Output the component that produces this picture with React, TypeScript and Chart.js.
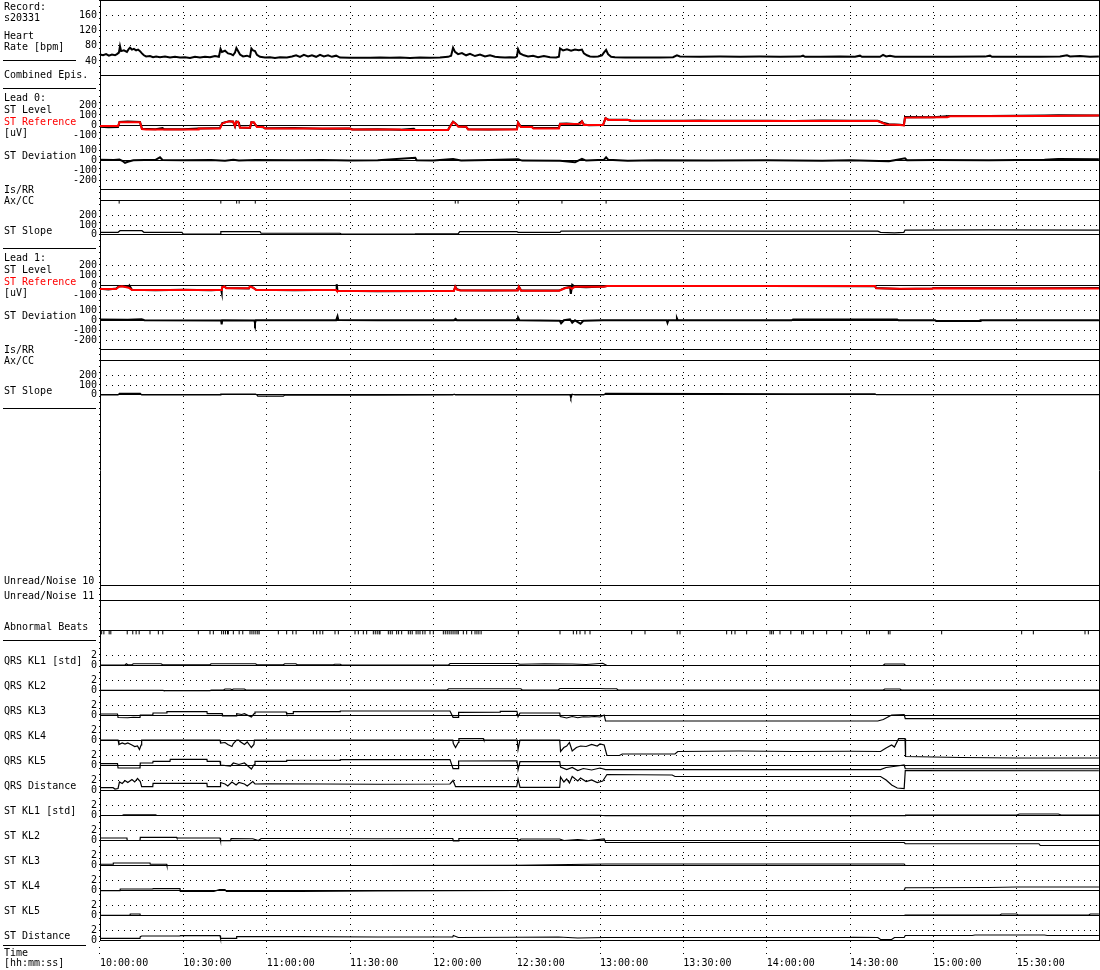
import { useEffect, useRef } from "react";
import { Chart, registerables } from "chart.js";

Chart.register(...registerables);

// ---------- data (time = minutes after 10:00:00) ----------
const TIME_TICKS = [0, 30, 60, 90, 120, 150, 180, 210, 240, 270, 300, 330];
const HR_TICKS = [40, 80, 120, 160];
const LEVEL_TICKS = [-100, 0, 100, 200];
const DEV_TICKS = [-200, -100, 0, 100];
const SLOPE_TICKS = [0, 100, 200];
const KL_TICKS = [0, 2];

const HEART_RATE: [number, number][] = [
  [0,57],[1.1,55],[2.2,58],[3.2,54],[4.3,57],[5.4,55],[6.1,58],[6.8,62],[7.2,79],[7.6,66],[8.6,68],[9.7,64],[10.4,72],[10.8,75],[11.5,70],[12.2,72],[13,68],[13.7,70],[14.4,66],[15.1,60],[15.8,55],[16.6,52],[18,53],[19.1,50],[20.2,52],[21.6,50],[23.4,52],[25.2,49],[27,51],[28.8,49],[30.6,50],[32.4,48],[34.2,51],[36,49],[37.8,51],[39.6,50],[41.4,53],[42.8,51],[43.4,72],[43.9,64],[45,67],[46.1,60],[47.2,58],[47.9,55],[48.6,62],[49.1,74],[49.7,66],[50.4,57],[51.5,52],[52.9,54],[54,51],[54.5,73],[55.1,68],[55.8,66],[56.5,56],[57.6,51],[59.4,49],[61.2,50],[63,48],[64.8,50],[67.3,49],[69.1,52],[70.6,55],[72,51],[73.4,56],[74.9,52],[76.3,55],[77.8,51],[79.2,56],[80.6,52],[82.1,55],[83.5,51],[85,54],[86.4,49],[90,48.5],[93.6,48.5],[97.2,48.5],[100.8,49],[104.4,48.5],[108,49],[111.6,48],[115.2,49],[118.8,48.5],[122.4,49],[125.3,51],[126.4,54],[127.1,75],[127.8,64],[128.9,58],[130.3,61],[131.8,55],[133.2,59],[135,53],[136.8,57],[138.6,52],[140.4,55],[142.2,51],[144,50],[145.8,49],[147.6,50],[149.4,49],[150.1,52],[150.5,71],[151.2,60],[152.6,55],[154.1,52],[155.9,54],[157.7,50],[159.8,53],[162,50],[164.2,49],[165.2,51],[165.6,73],[166.7,68],[168.1,71],[169.6,67],[171,70],[172.4,68],[173.5,70],[174.2,60],[175.3,55],[176.4,52],[177.8,51],[179.3,52],[180.7,55],[181.4,62],[182.2,69],[182.9,58],[184,51],[185.4,50],[189,49.5],[194.4,49],[201.6,49.5],[206.3,50],[207.7,55],[208.8,52],[216,51],[223.2,51.5],[230.4,51],[237.6,51.5],[244.8,51],[252,51.5],[253.1,54],[253.8,51],[259.2,51],[266.4,51.5],[271.8,51],[273.6,54],[274.3,51],[280.8,51],[281.9,56],[283,52],[284.4,54],[286.2,51],[295.2,51],[306,51],[318.6,51.5],[320.4,54],[321.1,51],[331.2,51],[338.4,51],[345.6,52],[348.1,55],[349.2,52],[352.8,53],[356.4,51],[359.6,52],
];

const L0_ST_REFERENCE: [number, number][] = [
  [0,-3],[6.5,-3],[7,33],[14.4,33],[15.1,-33],[16.6,-37],[35.3,-37],[35.5,-27],[43.2,-27],[44,20],[45,33],[46.5,42],[47.9,42],[48.6,-5],[49,35],[49.7,40],[50.4,-20],[54,-20],[54.5,33],[55.4,33],[56.5,-13],[58.7,-13],[59.4,-27],[90,-27],[90.5,-37],[108,-37],[108.5,-43],[125.3,-43],[126,-10],[127.1,37],[128,20],[129,-10],[131.8,-10],[132.5,-37],[150.1,-37],[150.5,30],[151.5,-13],[155.5,-13],[156,-27],[165.2,-27],[165.6,17],[173,20],[173.5,42],[174.2,7],[181.1,7],[182,73],[183,57],[190.8,57],[191.2,47],[280,47],[283,13],[288,7],[289.4,3],[289.8,80],[305,83],[306,93],[340,95],[359.6,100],
];
const L0_ST_LEVEL: [number, number][] = [
  [0,-10],[3,-16],[6.5,-12],[7,36],[10,42],[14.4,38],[15.1,-30],[20,-35],[22.5,-24],[23,-34],[30,-36],[35.5,-28],[40,-25],[43.2,-22],[44,25],[46.5,45],[47.9,40],[48.6,-8],[49.1,42],[50,30],[50.4,-18],[54,-22],[54.5,35],[55.4,30],[56.5,-8],[58.7,-15],[59.4,-26],[70,-24],[80,-30],[90,-28],[91,-38],[100,-35],[108,-40],[113,-30],[113.5,-42],[125.3,-42],[126,-5],[127.1,40],[128,22],[129,-6],[131.8,-12],[132.5,-35],[140,-38],[150.1,-34],[150.5,33],[151.5,-10],[155.5,-12],[156,-24],[165.2,-24],[165.6,20],[168,22],[172,15],[173.5,45],[174.2,12],[176,5],[181.1,8],[182,75],[183,60],[190,58],[190.8,50],[200,50],[210,48],[216,52],[220,48],[240,50],[250,47],[260,52],[270,50],[280,48],[281.9,30],[284,15],[288,10],[289.4,5],[289.8,85],[300,83],[306,95],[320,96],[340,100],[345,104],[359.6,102],
];
const L0_ST_DEVIATION: [number, number][] = [
  [0,5],[5,3],[7,8],[8,-5],[9,-25],[10,-15],[12,0],[20,5],[21.6,30],[22.5,3],[30,0],[40,2],[45,-5],[48,5],[50,-3],[56,2],[70,0],[80,3],[90,-2],[100,0],[113.5,25],[114,0],[120,-3],[127.1,12],[130,-3],[140,2],[150.5,10],[152,-3],[165.6,-5],[171,-20],[172,-5],[173.5,15],[175,-3],[181.4,5],[182.2,30],[183,5],[190,-5],[200,0],[220,-3],[240,0],[260,-5],[270,0],[284,-10],[286,0],[289.8,20],[290.5,0],[300,3],[320,0],[340,5],[345,12],[359.6,10],
];
const L0_ST_SLOPE: [number, number][] = [
  [0,25],[6.5,25],[7.2,42],[15.1,42],[15.8,25],[29.5,25],[30,7],[43.2,7],[43.5,33],[57.6,33],[58,15],[86.4,15],[87,5],[113,5],[113.5,8],[128.9,8],[129.5,33],[150.1,33],[150.5,25],[165.6,25],[166,38],[200,40],[240,37],[280,38],[281,25],[286,20],[289.4,25],[289.8,49],[320,50],[359.6,49],
];
const L0_AXCC_EVENTS = [6.9, 43.5, 49.2, 50.1, 55.9, 127.9, 128.9, 150.7, 166.3, 182.2, 289.4];

const L1_ST_REFERENCE: [number, number][] = [
  [0,-33],[5.8,-33],[6.8,-10],[7.9,-5],[10.3,-20],[11.5,-42],[43.6,-42],[43.9,-18],[44.8,-8],[45.4,-25],[53.6,-25],[54,-8],[55.1,-20],[56.2,-43],[85,-43],[85.3,-53],[127.4,-53],[127.9,-10],[128.5,-40],[129.7,-47],[150.4,-47],[150.8,-10],[151.6,-50],[165.3,-50],[167.4,-25],[169.2,-15],[169.9,-30],[171,-10],[181.4,-10],[182.5,-3],[279,-3],[279.4,-25],[288,-30],[299.6,-30],[300.2,-25],[359.6,-27],
];
const L1_ST_LEVEL: [number, number][] = [
  [0,-30],[3,-38],[5.8,-28],[6.8,-8],[7.9,-2],[10.3,-15],[10.6,2],[11.5,-40],[20,-44],[30,-40],[40,-45],[43.6,-40],[43.8,-65],[44,-15],[44.8,-5],[45.4,-22],[53.6,-28],[54,-5],[55.1,-18],[56.2,-40],[70,-44],[85,-40],[85.2,15],[85.5,-50],[100,-55],[120,-52],[127.4,-50],[127.9,-8],[128.5,-35],[129.7,-45],[140,-48],[150.4,-45],[150.8,-8],[151.6,-48],[165.3,-48],[167.4,-22],[169.2,-12],[169.5,-80],[170,10],[171,-10],[175,-15],[181.4,-8],[182.5,-2],[220,-3],[240,-2],[279,-5],[279.4,-22],[288,-32],[299.6,-28],[300.2,-22],[330,-25],[359.6,-24],
];
const L1_ST_DEVIATION: [number, number][] = [
  [0,8],[10,5],[15,10],[16,0],[43.6,-3],[43.8,-40],[44,0],[55.6,-2],[55.8,-28],[56.1,0],[85,0],[85.5,40],[85.8,3],[100,0],[127.4,0],[128,15],[128.5,0],[150.3,0],[150.5,27],[151,0],[165.5,-5],[166,-30],[167,0],[169.2,10],[170,-25],[171,0],[173,-35],[174,-5],[181,0],[204,0],[204.3,-25],[204.6,0],[207.5,0],[207.7,20],[208,0],[249,0],[249.5,8],[287,8],[287.5,0],[300.6,0],[301,-8],[316.8,-8],[317,0],[359.6,0],
];
const L1_ST_SLOPE: [number, number][] = [
  [0,-3],[6.5,-3],[7,14],[14.5,14],[15,-3],[43.2,-3],[43.5,7],[56,7],[56.5,-3],[56.8,-15],[66,-15],[66.5,-3],[100,-4],[127,-3],[127.5,5],[128,-3],[169.2,-3],[169.5,-40],[170,5],[171,-3],[181.4,-3],[182,14],[220,12],[250,10],[279,10],[279.5,0],[359.6,0],
];

const ABNORMAL_BEATS = [
  0.6,1.4,3.3,3.9,9.8,11.8,13,14.1,18,21,22.6,35.4,39.6,40.8,43.8,44.5,45.2,45.9,46.2,48,50.1,51.4,54,54.7,55.4,56.1,56.8,57.3,64.2,67.2,69.4,70.6,76.8,78,79.2,80.2,84.6,85.8,91.8,93,94.8,96,98.4,99.1,99.8,100.5,100.8,103.8,104.5,105.2,106.8,107.5,108.6,111,111.7,112.4,113.8,114.5,115.2,116.2,117,118.8,120,123.6,124.3,125,125.7,126.4,127.1,127.8,128.5,129,130.8,132,133.8,135,135.7,136.4,137.2,150.6,165.6,170.4,171.6,172.8,174.6,176.4,
  191.4,196.2,207.8,208.8,225.6,227.4,228.6,232.8,241.2,241.8,242.4,244.8,248.7,252.6,253.2,256.8,261.6,267,276,277,283.8,284.4,303,331.8,336,354.6,355.8,
];

const QRS_KL1: [number, number][] = [
  [0,0],[9,0],[9.5,0.25],[10,0.05],[11.5,0.05],[12,0.25],[22,0.25],[22.5,0.05],[39.6,0.05],[40,0.25],[56,0.25],[56.5,0.05],[66,0.05],[66.5,0.25],[70.5,0.25],[71,0.05],[84,0.05],[84.5,0.15],[86.5,0.15],[87,0],[125.5,0],[126,0.3],[150.5,0.3],[151,0.15],[160,0.25],[170,0.2],[175,0.1],[180,0.3],[181,0.35],[182.5,-0.1],[281.9,-0.1],[282.5,0.2],[289.5,0.2],[290,-0.1],[359.6,-0.1],
];
const QRS_KL2: [number, number][] = [
  [0,-0.05],[22.7,-0.05],[23,-0.15],[39.6,-0.15],[40,0],[44.5,0],[45,0.2],[47,0.2],[47.5,0.05],[48,0.2],[52,0.2],[52.5,0],[125,0],[125.5,0.25],[151.5,0.25],[152,0],[165,0],[165.5,0.3],[180,0.3],[182,0.25],[186,0.25],[186.5,0],[282,0],[282.5,0.2],[288,0.2],[288.5,0],[359.6,0],
];
const QRS_KL3: [number, number][] = [
  [0,0.2],[6.3,0.2],[6.5,-0.5],[10,-0.55],[12,-0.45],[14.4,-0.5],[14.5,0],[19,0],[19.1,0.4],[24,0.4],[24.1,0.67],[38.5,0.67],[38.6,0.27],[44,0.27],[44.1,-0.2],[49,-0.2],[49.2,0.27],[51,0.1],[52,0.27],[54.5,-0.4],[55.5,0.27],[55.8,0.6],[67,0.6],[67.2,0.27],[69.5,0.27],[69.6,0.67],[86.4,0.67],[86.5,0.8],[126,0.8],[127.1,-0.47],[129,-0.47],[129.1,0.53],[144,0.55],[144.1,0.73],[150.1,0.73],[150.5,-0.33],[151.2,0.4],[165.5,0.4],[165.7,-0.3],[168,-0.6],[170,-0.3],[172,-0.55],[174,-0.35],[176,-0.4],[178,-0.3],[180,-0.4],[181.5,0],[182,-1.2],[280,-1.2],[282,-0.9],[285,0],[289.5,0.1],[289.9,-0.73],[359.6,-0.73],
];
const QRS_KL4: [number, number][] = [
  [0,0],[6.5,0],[6.8,-0.9],[8,-0.6],[9,-0.8],[10,-0.6],[11.5,-1.0],[12.5,-1.3],[13.5,-1.2],[14.2,-1.9],[14.8,-1.0],[15,0],[43.2,0],[43.4,-0.6],[45,-0.5],[46,-0.9],[47.5,-1.3],[48,-0.7],[49.2,0],[50,0],[50.4,-0.3],[52,-0.9],[53,-0.4],[54.5,-1.5],[55.4,-0.9],[55.6,0],[127,0],[127.2,-0.7],[128,-1.5],[129,-0.5],[129.2,0.27],[138,0.27],[138.2,0],[150.2,0],[150.5,-1.9],[151.2,0],[165.5,0],[165.8,-2.3],[167,-1.5],[168,-1.2],[169,-0.5],[170,-2.2],[171.5,-1.5],[173,-1.2],[175,-1.3],[177,-0.9],[179,-1.2],[180,-0.8],[181.5,-1.0],[182.5,-3.1],[187,-3.1],[188,-2.8],[207,-2.8],[208,-2.3],[230,-2.2],[250,-2.3],[270,-2.25],[281,-2.3],[283,-1.6],[285,-1.0],[286,-1.4],[287.5,0.27],[289.8,0.27],[290,-3.3],[300,-3.4],[310,-3.5],[330,-3.6],[359.6,-3.6],
];
const QRS_KL5: [number, number][] = [
  [0,0.27],[6.3,0.27],[6.5,-0.6],[14.4,-0.6],[14.5,0.4],[19,0.4],[19.1,0.73],[25.2,0.73],[25.3,1.13],[38.5,1.13],[38.6,0.73],[43.2,0.73],[43.4,0],[47,-0.2],[48,0.4],[50,0.1],[52,0.4],[54.5,-0.8],[55.5,0.1],[55.8,0.73],[67,0.73],[67.2,0.93],[86.4,0.93],[86.5,1.07],[126,1.07],[127.1,-0.73],[129,-0.73],[129.1,0.8],[150.1,0.85],[150.5,-0.93],[151.2,0.67],[165.5,0.67],[165.8,-0.4],[168,-0.9],[170,-0.5],[172,-1.1],[174,-0.7],[177,-1.0],[180,-0.6],[182,-0.93],[281,-0.93],[283,-0.5],[287,-0.2],[289.5,0],[289.9,-0.75],[359.6,-0.75],
];
const QRS_DISTANCE: [number, number][] = [
  [0,0.47],[4.7,0.47],[5.4,0.2],[6.5,0.3],[7,1.6],[8,1.3],[9,1.9],[10,1.5],[11.5,2.1],[12.5,1.6],[13.5,2.3],[14.5,1.7],[15,0.67],[19,0.67],[19.1,1.33],[38.5,1.33],[38.6,0.67],[43.2,0.67],[43.4,1.5],[45,1.2],[46,0.8],[47.5,1.6],[49,1.0],[50,1.5],[52,1.2],[53,0.8],[55,1.7],[55.8,1.2],[60,1.25],[80,1.2],[100,1.15],[126,1.2],[127.1,1.9],[128,0.67],[150,0.67],[150.5,2.2],[151.2,0.53],[165.5,0.53],[165.8,2.6],[167,1.6],[168,2.2],[169,1.4],[170,2.7],[172,1.8],[173,2.4],[175,1.7],[177,2.0],[179,1.5],[181,1.8],[182.5,3.1],[206,3.0],[207,2.7],[281,2.7],[283,2.0],[285,1.0],[287,0.4],[289.5,0.3],[289.9,3.9],[359.6,3.85],
];
const ST_KL1: [number, number][] = [
  [0,-0.1],[8,-0.1],[8.5,0.05],[20,0.05],[20.5,-0.1],[100,-0.1],[180,-0.05],[182,-0.15],[289.8,-0.15],[290,0],[330,0],[331,0.2],[345,0.2],[346,0],[359.6,0],
];
const ST_KL2: [number, number][] = [
  [0,0.4],[9.7,0.4],[9.8,-0.1],[14.4,-0.1],[14.5,0.53],[27.6,0.53],[27.7,0.4],[43.2,0.4],[43.4,-0.13],[47,-0.13],[47.2,0.3],[55,0.25],[57,-0.1],[58,0.3],[80,0.3],[100,0.25],[120,0.3],[127,0.3],[127.2,-0.2],[129,-0.2],[129.2,0.3],[150.3,0.3],[150.5,-0.2],[151.5,0.2],[165.5,0.2],[167,-0.1],[172,0.1],[176,-0.1],[181.5,0.2],[182,-0.5],[289.5,-0.5],[289.9,-0.75],[338,-0.75],[338.5,-1.1],[359.6,-1.1],
];
const ST_KL3: [number, number][] = [
  [0,0.15],[4.7,0.15],[4.8,0.4],[18,0.4],[18.1,0.15],[24,0.15],[24.1,-0.1],[72,-0.1],[100,-0.1],[150,-0.05],[182,0.2],[289.5,0.2],[289.9,-0.1],[359.6,-0.1],
];
const ST_KL4: [number, number][] = [
  [0,-0.13],[7.2,-0.13],[7.3,0.2],[19,0.2],[19.1,0.27],[28.8,0.27],[28.9,-0.27],[41,-0.27],[43,0.07],[45,0.07],[45.5,-0.27],[72,-0.27],[100,-0.2],[150,-0.1],[182,-0.1],[289.5,-0.05],[289.9,0.45],[320,0.5],[330,0.6],[359.6,0.6],
];
const ST_KL5: [number, number][] = [
  [0,-0.05],[10.8,-0.05],[10.9,0.2],[14.4,0.2],[14.5,-0.1],[100,-0.1],[200,-0.1],[289.5,-0.1],[289.9,0],[324,0],[324.5,0.2],[330,0.2],[330.5,0],[356,0],[356.5,0.2],[359.6,0.2],
];
const ST_DISTANCE: [number, number][] = [
  [0,0.33],[14.4,0.33],[14.5,0.67],[15,0.8],[28.8,0.8],[28.9,0.87],[43.2,0.87],[43.4,0.33],[49,0.33],[49.2,0.67],[72,0.67],[100,0.6],[127,0.6],[127.2,0.9],[129,0.5],[150,0.55],[165,0.6],[172,0.4],[182,0.5],[270,0.5],[271,0.55],[280,0.5],[281,0.1],[285,0.1],[286,0.5],[289.5,0.5],[289.9,0.9],[314,0.9],[315,1.0],[340,1.0],[341,0.9],[359.6,0.9],
];

const KL_NAMES = ["QRS KL1 [std]", "QRS KL2", "QRS KL3", "QRS KL4", "QRS KL5", "QRS Distance", "ST KL1 [std]", "ST KL2", "ST KL3", "ST KL4", "ST KL5", "ST Distance"];
const KL_SERIES = [QRS_KL1, QRS_KL2, QRS_KL3, QRS_KL4, QRS_KL5, QRS_DISTANCE, ST_KL1, ST_KL2, ST_KL3, ST_KL4, ST_KL5, ST_DISTANCE];

// ---------- layout ----------
const FONT_FAMILY = '"DejaVu Sans Mono", monospace';
const FONT = `10px ${FONT_FAMILY}`;
const RED = "#ff0000";

type Label = { t: string; dy: number; c?: string };
type Sep = { dy: number | "bottom"; x2: number };
type Panel = { id: string; h: number; min: number; max: number; ticks?: number[]; lines?: (number | "bottom")[]; labels?: Label[]; sep?: Sep[] };

const leadPanels = (n: number): Panel[] => [
  { id: `l${n}lev`, h: 55, min: -171.3, max: 373.3, ticks: LEVEL_TICKS, lines: [0],
    labels: [{ t: `Lead ${n}:`, dy: 13.3 }, { t: "ST Level", dy: 25.3 }, { t: "ST Reference", dy: 36.6, c: RED }, { t: "[uV]", dy: 48 }] },
  { id: `l${n}dev`, h: 46.3, min: -290, max: 173, ticks: DEV_TICKS, lines: [0, "bottom"], labels: [{ t: "ST Deviation", dy: 16 }] },
  { id: `l${n}isrr`, h: 10.7, min: 0, max: 1, lines: ["bottom"], labels: [{ t: "Is/RR", dy: 3.7 }] },
  { id: `l${n}axcc`, h: 6, min: 0, max: 1, labels: [{ t: "Ax/CC", dy: 4 }] },
  { id: `l${n}slope`, h: 42, min: -140, max: 302.1, ticks: SLOPE_TICKS, lines: [0], labels: [{ t: "ST Slope", dy: 28 }], sep: [{ dy: "bottom", x2: 96 }] },
];

const PANELS: Panel[] = [
  { id: "hr", h: 75, min: 3.24, max: 200.2, ticks: HR_TICKS, lines: ["bottom"],
    labels: [{ t: "Record:", dy: 10 }, { t: "s20331", dy: 20.6 }, { t: "Heart", dy: 39 }, { t: "Rate [bpm]", dy: 49.6 }], sep: [{ dy: 60, x2: 76 }] },
  { id: "epis", h: 13, min: 0, max: 1, labels: [{ t: "Combined Epis.", dy: 3.3 }], sep: [{ dy: "bottom", x2: 96 }] },
  ...leadPanels(0),
  ...leadPanels(1),
  { id: "blank", h: 162, min: 0, max: 1 },
  { id: "un10", h: 15, min: 0, max: 1, lines: ["bottom"], labels: [{ t: "Unread/Noise 10", dy: 14 }] },
  { id: "un11", h: 15.3, min: 0, max: 1, lines: ["bottom"], labels: [{ t: "Unread/Noise 11", dy: 14 }] },
  { id: "abn", h: 39.7, min: -1, max: 3.27, lines: [0], labels: [{ t: "Abnormal Beats", dy: 29.3 }], sep: [{ dy: "bottom", x2: 96 }] },
  ...KL_NAMES.map((name, i): Panel => ({
    id: `kl${i}`, h: i === 11 ? 26 : 25, min: i === 11 ? -0.2 : 0, max: 5, ticks: KL_TICKS, lines: [0], labels: [{ t: name, dy: 24 }],
  })),
];

const fmtTime = (v: number) => {
  const total = Math.round(v) + 10 * 60;
  const h = Math.floor(total / 60);
  const m = total % 60;
  return `${String(h).padStart(2, "0")}:${String(m).padStart(2, "0")}:00`;
};

const pts = (a: [number, number][]) => a.map(([x, y]) => ({ x, y }));

const line = (data: [number, number][], yAxisID: string, width = 1, color = "#000", order = 1) => ({
  type: "line" as const,
  data: pts(data),
  yAxisID,
  xAxisID: "x",
  borderColor: color,
  borderWidth: width,
  pointRadius: 0,
  tension: 0,
  fill: false,
  clip: false,
  order,
});

const marks = (times: number[], yAxisID: string, level: number) => ({
  type: "scatter" as const,
  data: times.map((t) => ({ x: t, y: level })),
  yAxisID,
  xAxisID: "x",
  pointStyle: "line" as const,
  rotation: 90,
  radius: 1.8,
  borderColor: "#000",
  backgroundColor: "#000",
  borderWidth: 1,
  showLine: false,
  clip: false,
  order: 1,
});

const alignPx = (p: number) => Math.round(p - 0.5) + 0.5;

const decorPlugin = {
  id: "decor",
  beforeDatasetsDraw(chart: any) {
    const { ctx, chartArea: a } = chart;
    ctx.save();
    ctx.strokeStyle = "#000";
    ctx.lineWidth = 1;
    ctx.setLineDash([]);
    ctx.beginPath();
    for (const p of PANELS) {
      const s = chart.scales[p.id];
      for (const l of p.lines || []) {
        const y = alignPx(l === "bottom" ? s.bottom : s.getPixelForValue(l));
        ctx.moveTo(a.left, y);
        ctx.lineTo(a.right, y);
      }
    }
    ctx.moveTo(a.left + 0.5, a.bottom);
    ctx.lineTo(a.left + 0.5, a.top);
    ctx.moveTo(a.left, a.top + 0.5);
    ctx.lineTo(a.right, a.top + 0.5);
    ctx.moveTo(a.right - 0.5, a.top);
    ctx.lineTo(a.right - 0.5, a.bottom);
    ctx.stroke();
    ctx.restore();
  },
  afterDraw(chart: any) {
    const { ctx, chartArea: a } = chart;
    ctx.save();
    ctx.font = FONT;
    ctx.textAlign = "left";
    ctx.textBaseline = "alphabetic";
    ctx.strokeStyle = "#000";
    ctx.lineWidth = 1;
    ctx.setLineDash([]);
    for (const p of PANELS) {
      const s = chart.scales[p.id];
      for (const lb of p.labels || []) {
        ctx.fillStyle = lb.c || "#000";
        ctx.fillText(lb.t, 4, s.top + lb.dy);
      }
      for (const sp of p.sep || []) {
        const y = alignPx(sp.dy === "bottom" ? s.bottom : s.top + sp.dy);
        ctx.beginPath();
        ctx.moveTo(3, y);
        ctx.lineTo(sp.x2, y);
        ctx.stroke();
      }
    }
    const yb = alignPx(a.bottom + 4);
    ctx.beginPath();
    ctx.moveTo(3, yb);
    ctx.lineTo(86, yb);
    ctx.stroke();
    ctx.fillStyle = "#000";
    ctx.fillText("Time", 4, a.bottom + 14.5);
    ctx.fillText("[hh:mm:ss]", 4, a.bottom + 24.5);
    ctx.restore();
  },
};

const noPad = (s: any) => {
  s.paddingTop = 0;
  s.paddingBottom = 0;
  s.paddingLeft = 0;
  s.paddingRight = 0;
};

export default function App() {
  const ref = useRef<HTMLCanvasElement>(null);
  useEffect(() => {
    const canvas = ref.current;
    if (!canvas) return;

    const scales: any = {
      x: {
        type: "linear",
        position: "bottom",
        min: 0,
        max: 360,
        afterBuildTicks: (s: any) => { s.ticks = TIME_TICKS.map((v) => ({ value: v })); },
        afterFit: (s: any) => { s.height = 29; noPad(s); },
        grid: { color: "#000", lineWidth: 1, drawTicks: true, tickLength: 16, tickColor: "#000", tickWidth: 1, tickBorderDash: [1, 5] },
        border: { display: false, dash: [1, 5] },
        ticks: { align: "start", padding: 0, maxRotation: 0, autoSkip: false, color: "#000", font: { family: FONT_FAMILY, size: 10 }, callback: (v: any) => fmtTime(Number(v)) },
      },
    };
    PANELS.forEach((p, i) => {
      const hasTicks = !!p.ticks;
      scales[p.id] = {
        type: "linear",
        position: "left",
        stack: "rows",
        stackWeight: p.h,
        weight: PANELS.length - i,
        display: hasTicks,
        min: p.min,
        max: p.max,
        afterBuildTicks: (s: any) => { s.ticks = (p.ticks || []).map((v) => ({ value: v })); },
        afterFit: (s: any) => { s.width = 100; noPad(s); },
        grid: { color: "#000", lineWidth: 1, drawTicks: false },
        border: { display: false, dash: [1, 5] },
        ticks: { autoSkip: false, padding: 3, color: "#000", font: { family: FONT_FAMILY, size: 10 }, callback: (v: any) => String(v) },
      };
    });

    const datasets: any[] = [
      line(HEART_RATE, "hr", 2),
      line(L0_ST_REFERENCE, "l0lev", 2, RED, 0),
      line(L0_ST_LEVEL, "l0lev", 2),
      line(L0_ST_DEVIATION, "l0dev", 2),
      line(L0_ST_SLOPE, "l0slope", 1.2),
      marks(L0_AXCC_EVENTS, "l0axcc", 0.7),
      line(L1_ST_REFERENCE, "l1lev", 2, RED, 0),
      line(L1_ST_LEVEL, "l1lev", 2),
      line(L1_ST_DEVIATION, "l1dev", 2),
      line(L1_ST_SLOPE, "l1slope", 1.2),
      marks(ABNORMAL_BEATS, "abn", -0.2),
      ...KL_SERIES.map((s, i) => line(s, `kl${i}`, 1.2)),
    ];

    const chart = new Chart(canvas, {
      type: "line",
      data: { datasets },
      options: {
        animation: false,
        responsive: false,
        maintainAspectRatio: false,
        devicePixelRatio: 1,
        events: [],
        layout: { padding: 0, autoPadding: false },
        plugins: { legend: { display: false }, tooltip: { enabled: false }, title: { display: false } },
        scales,
      },
      plugins: [decorPlugin],
    } as any);
    return () => chart.destroy();
  }, []);

  return (
    <div style={{ position: "absolute", left: 0, top: 0, width: 1100, height: 970, background: "#fff" }}>
      <canvas ref={ref} width={1100} height={970} style={{ display: "block", width: 1100, height: 970 }} />
    </div>
  );
}
